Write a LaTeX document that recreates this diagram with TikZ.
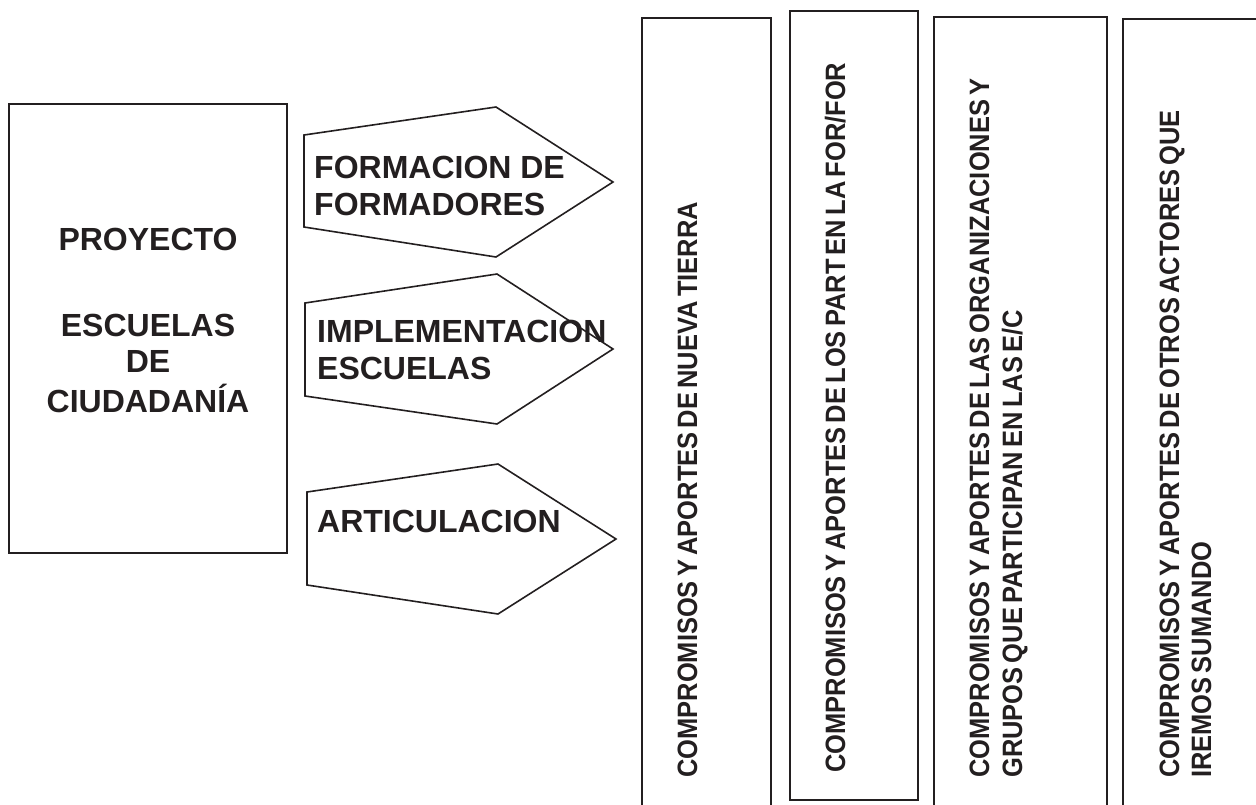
\documentclass[tikz,border=0pt]{standalone}
\usepackage{fontspec}
\setmainfont{Liberation Sans}
\newfontfamily\narrowfont{Liberation Sans}[FakeStretch=0.91, WordSpace=0.6]
\definecolor{ink}{HTML}{231F20}
\begin{document}
\begin{tikzpicture}[x=1pt,y=-1pt, line join=miter,
  box/.style={draw=ink, line width=2pt, inner sep=0pt},
  pent/.style={draw=ink, line width=1.6pt},
  htext/.style={font=\fontsize{32}{37}\selectfont\bfseries, text=ink, inner sep=0pt},
  vtext/.style={font=\narrowfont\fontsize{28}{32}\selectfont\bfseries, rotate=90, anchor=base west, inner sep=0pt, text=ink}]
\useasboundingbox (0,0) rectangle (1256,804);
% left box
\node[box, minimum width=278pt, minimum height=449pt] (proj) at (148,328.5) {};
\node[htext] (t1) at (148,239) {PROYECTO};
\node[htext] (t2) at (148,325) {ESCUELAS};
\node[htext] (t3) at (148,361) {DE};
\node[htext] (t4) at (148,398) {CIUDADANÍA};
% pentagons
\draw[pent] (304,135) -- (496,107) -- (613,182) -- (496,257) -- (304,227) -- cycle;
\draw[pent] (305,303) -- (497,274) -- (613,349) -- (497,424) -- (305,396) -- cycle;
\draw[pent] (307,492) -- (498,464) -- (616,539) -- (498,614) -- (307,585) -- cycle;
\node[htext, anchor=west] (p1a) at (314,167) {FORMACION DE};
\node[htext, anchor=west] (p1b) at (314,204) {FORMADORES};
\node[htext, anchor=west] (p2a) at (317,331) {IMPLEMENTACION};
\node[htext, anchor=west] (p2b) at (317,368) {ESCUELAS};
\node[htext, anchor=west] (p3a) at (317,521) {ARTICULACION};
% right boxes
\draw[box] (642,812) -- (642,18) -- (771,18) -- (771,812);
\draw[box] (790,800) rectangle (918,11);
\draw[box] (934,812) -- (934,17) -- (1107,17) -- (1107,812);
\draw[box] (1123,812) -- (1123,19) -- (1270,19);
\node[vtext] (c1) at (697,778) {COMPROMISOS Y APORTES DE NUEVA TIERRA};
\node[vtext] (c2) at (845,773) {COMPROMISOS Y APORTES DE LOS PART EN LA FOR/FOR};
\node[vtext] (c3a) at (989,778) {COMPROMISOS Y APORTES DE LAS ORGANIZACIONES Y};
\node[vtext] (c3b) at (1022,778) {GRUPOS QUE PARTICIPAN EN LAS E/C};
\node[vtext] (c4a) at (1179,778) {COMPROMISOS Y APORTES DE OTROS ACTORES QUE};
\node[vtext] (c4b) at (1211,778) {IREMOS SUMANDO};
\end{tikzpicture}
\end{document}
